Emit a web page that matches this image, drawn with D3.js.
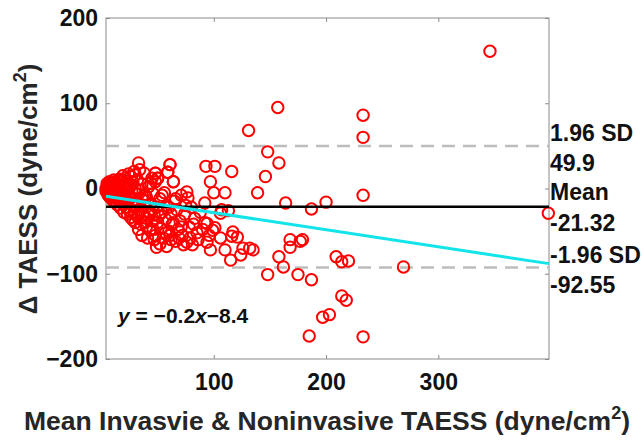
<!DOCTYPE html>
<html>
<head>
<meta charset="UTF-8">
<script src="https://d3js.org/d3.v7.min.js"></script>
<style>
  body { margin: 0; background: #fff; }
  svg text { font-family: "Liberation Sans", Arial, sans-serif; font-weight: bold; }
</style>
</head>
<body>
<svg width="644" height="443"></svg>
<script>
// mean of invasive & noninvasive TAESS (x) and the difference (y)
const meanTAESS = [
  4,4,5,5,6,6,6,7,7,7,8,8,8,9,9,10,10,10,11,11,12,12,12,13,13,14,14,15,15,15,
  16,16,17,17,18,18,19,19,20,20,21,21,22,22,23,23,24,25,25,26,26,27,27,28,28,29,29,30,30,30,
  31,32,32,33,33,34,35,35,36,36,37,38,38,39,40,40,41,42,42,43,44,45,45,46,47,48,48,48,49,49,50,50,
  52,53,54,55,56,57,58,59,60,61,61,62,63,64,65,66,67,68,70,71,72,74,76,76,77,78,80,81,83,85,88,
  5,6,7,8,9,10,11,12,13,14,16,17,18,19,20,21,22,23,24,25,26,27,28,29,30,
  33,34,36,38,40,41,43,44,46,47,51,52,54,57,58,60,62,64,66,69,71,73,75,79,82,86,90,92,96,
  346,131,157,233,233,148,158,146,116,93,101,97,100,110,139,164,200,187,233,398,
  48,61,59,64,50,92,107,113,106,94,101,106,117,116,94,110,115,124,126,132,135,97,
  168,177,168,158,162,148,175,187,179,209,214,220,269,214,218,197,203,185,233,99,121
];
const diffTAESS = [
  0,-3,2,-5,1,-2,4,-1,-6,3,0,5,-4,-8,2,-2,6,-10,1,-5,3,-7,8,-1,-12,4,-3,0,-9,9,
  -5,5,-14,1,-2,10,-8,-18,3,-4,-11,12,-1,-22,6,-15,-7,-26,2,-10,14,-19,-3,-37,8,-13,-29,0,-22,16,
  -6,-33,10,30,-17,-2,-25,-42,5,-12,-30,-20,18,-8,-45,-35,-14,2,-27,-49,-18,-38,12,-6,-31,18,8,-55,-69,-22,12,-40,
  -12,-47,-28,-58,-5,-36,-20,19,-50,28,-55,-30,-42,8,-15,-62,-25,-48,-38,-8,-55,-30,-4,-63,-11,-45,-22,-66,-35,-52,-28,
  6,-8,8,-11,7,-14,10,-16,6,-19,11,-23,-10,15,-28,-16,9,-30,17,-12,-34,4,-20,20,-40,
  -48,22,-55,-40,-10,-58,-30,6,-48,-60,-32,-65,-8,-52,-68,-22,-60,-40,-12,-58,-45,-66,-20,-58,-42,-60,-48,-40,-55,
  161,68,95,86,60,43,30,14,20,26,26,8,-5,-5,-5,-17,-16,-24,-8,-29,
  18,28,19,8,12,-17,-25,-26,-29,-41,-46,-58,-51,-56,-63,-72,-84,-78,-70,-70,-72,-72,
  -60,-62,-69,-80,-92,-101,-101,-107,-60,-80,-86,-85,-92,-126,-131,-151,-148,-173,-174,-49,-57
];

const meanDiff = -21.32;
const upperLoA = 49.9;
const lowerLoA = -92.55;
const fitSlope = -0.2, fitIntercept = -8.4;

const xTicks = [100, 200, 300];
const yTicks = [-200, -100, 0, 100, 200];
const xDomain = [4, 398.6];

const svg = d3.select("svg");
const pLeft = 106, pRight = 549, pTop = 18, pBottom = 359;

const x = d3.scaleLinear().domain(xDomain).range([pLeft, pRight]);
const y = d3.scaleLinear().domain([-200, 200]).range([pBottom, pTop]);

// box
svg.append("rect")
  .attr("x", pLeft).attr("y", pTop)
  .attr("width", pRight - pLeft).attr("height", pBottom - pTop)
  .attr("fill", "none").attr("stroke", "#8a8a8a").attr("stroke-width", 1);

function styleAxis(g) {
  g.select(".domain").remove();
  g.selectAll(".tick line").attr("stroke", "#8a8a8a");
  g.selectAll(".tick text").attr("fill", "#111").style("font-size", "23px");
}

svg.append("g").attr("transform", `translate(${pLeft},0)`)
  .call(d3.axisLeft(y).tickValues(yTicks).tickSize(-4).tickPadding(8))
  .call(styleAxis);
svg.append("g").attr("transform", `translate(${pRight},0)`)
  .call(d3.axisRight(y).tickValues(yTicks).tickSize(-4).tickFormat(""))
  .call(styleAxis);
svg.append("g").attr("transform", `translate(0,${pBottom})`)
  .call(d3.axisBottom(x).tickValues(xTicks).tickSize(-4).tickPadding(15))
  .call(styleAxis);
svg.append("g").attr("transform", `translate(0,${pTop})`)
  .call(d3.axisTop(x).tickValues(xTicks).tickSize(-4).tickFormat(""))
  .call(styleAxis);

// limits of agreement
svg.selectAll(".loa").data([upperLoA, lowerLoA]).join("line")
  .attr("x1", pLeft).attr("x2", pRight)
  .attr("y1", d => y(d)).attr("y2", d => y(d))
  .attr("stroke", "#bdbdbd").attr("stroke-width", 2.5)
  .attr("stroke-dasharray", "13,8");

// points
const pts = meanTAESS.map((m, i) => ({ m: m, d: diffTAESS[i] }));
svg.append("g").selectAll("circle").data(pts).join("circle")
  .attr("cx", d => x(d.m)).attr("cy", d => y(d.d)).attr("r", 5.7)
  .attr("fill", "none").attr("stroke", "#ff0000").attr("stroke-width", 2);

// mean line
svg.append("line")
  .attr("x1", pLeft).attr("x2", pRight)
  .attr("y1", y(meanDiff)).attr("y2", y(meanDiff))
  .attr("stroke", "#000").attr("stroke-width", 2.5);

// regression line
svg.append("line")
  .attr("x1", x(xDomain[0])).attr("x2", x(xDomain[1]))
  .attr("y1", y(fitSlope * xDomain[0] + fitIntercept))
  .attr("y2", y(fitSlope * xDomain[1] + fitIntercept))
  .attr("stroke", "#12e4ea").attr("stroke-width", 3);

// right-hand labels
const sideLabels = [
  { t: "1.96 SD", v: upperLoA, dy: -5 },
  { t: upperLoA.toFixed(1), v: upperLoA, dy: 25 },
  { t: "Mean", v: meanDiff, dy: -7 },
  { t: meanDiff.toFixed(2), v: meanDiff, dy: 24 },
  { t: "-1.96 SD", v: lowerLoA, dy: -4 },
  { t: lowerLoA.toFixed(2), v: lowerLoA, dy: 26 }
];
svg.selectAll(".side").data(sideLabels).join("text")
  .attr("x", pRight + 1).attr("y", d => y(d.v) + d.dy)
  .attr("fill", "#111").style("font-size", "23px")
  .text(d => d.t);

// equation
const eq = svg.append("text").attr("x", 118).attr("y", 323)
  .attr("fill", "#111").style("font-size", "21px");
eq.append("tspan").style("font-style", "italic").text("y");
eq.append("tspan").text(" = \u2212" + (-fitSlope));
eq.append("tspan").style("font-style", "italic").text("x");
eq.append("tspan").text("\u2212" + (-fitIntercept));

// axis labels
const xl = svg.append("text").attr("x", 327).attr("y", 430)
  .attr("text-anchor", "middle").attr("fill", "#262626").style("font-size", "26.5px");
xl.append("tspan").text("Mean Invasvie & Noninvasive TAESS (dyne/cm");
xl.append("tspan").attr("dy", -11).style("font-size", "18px").text("2");
xl.append("tspan").attr("dy", 11).text(")");

const yl = svg.append("text").attr("transform", "translate(37,189) rotate(-90)")
  .attr("text-anchor", "middle").attr("fill", "#262626").style("font-size", "26px");
yl.append("tspan").text("\u0394 TAESS (dyne/cm");
yl.append("tspan").attr("dy", -11).style("font-size", "18px").text("2");
yl.append("tspan").attr("dy", 11).text(")");
</script>
</body>
</html>
